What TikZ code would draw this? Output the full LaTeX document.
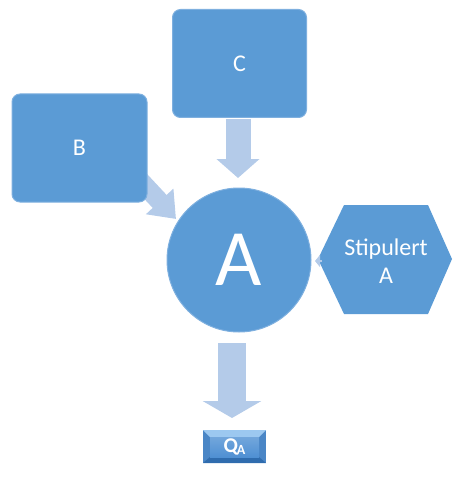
\documentclass[tikz,border=0pt]{standalone}
\usepackage{fontspec}
\setmainfont{Carlito}
\usetikzlibrary{arrows.meta,shadings}
\definecolor{boxblue}{HTML}{5B9BD5}
\definecolor{boxedge}{HTML}{7FB0DF}
\definecolor{arrblue}{HTML}{B4CBE9}
\definecolor{qtop}{HTML}{9CC8F0}
\definecolor{qbot}{HTML}{2F6CAE}
\definecolor{qside}{HTML}{4A86C6}
\definecolor{qface}{HTML}{4F90D3}
\tikzset{
  rbox/.style={fill=boxblue, draw=boxedge, line width=1pt, rounded corners=8pt, text=white, font=\fontsize{24}{26}\selectfont},
  barrow/.style={draw=arrblue, line cap=butt},
  lbl/.style={text=white, align=center}
}
\begin{document}
\begin{tikzpicture}[x=1pt,y=-1pt]
\useasboundingbox (0,0) rectangle (452,484);
% arrows behind
\coordinate (ct) at (238,119);
\coordinate (ch) at (238,178);
\draw[barrow, line width=25pt, arrows={-Triangle[length=19pt, width=42pt]}] (ct) -- (ch);
\coordinate (bt) at (135,175);
\coordinate (bh) at (176,219);
\draw[barrow, line width=19pt, arrows={-Triangle[length=24pt, width=36pt]}] (bt) -- (bh);
% boxes
\node[rbox, minimum width=134pt, minimum height=108pt] (C) at (239.5,63.5) {C};
\node[rbox, minimum width=135pt, minimum height=108pt] (B) at (79.5,148) {B};
% circle
\node[circle, fill=boxblue, draw=boxedge, line width=1pt, minimum size=144pt, text=white, font=\fontsize{80}{80}\selectfont, inner sep=0pt] (A) at (239,260) {A};
% hexagon
\fill[boxblue] (318,259) -- (344,205) -- (428,205) -- (452,259) -- (428,314) -- (344,314) -- cycle;
\node[lbl, font=\fontsize{24}{28}\selectfont] (S) at (386,261) {Stipulert\\A};
% QA bevel box
\fill[qside] (203,430) rectangle (266,463);
\fill[qtop] (203,430) -- (266,430) -- (259,437) -- (210,437) -- cycle;
\fill[qbot] (203,463) -- (266,463) -- (259,457) -- (210,457) -- cycle;
\shade[top color=qface!80!white, bottom color=qface] (210,437) rectangle (259,457);
\node[text=white, font=\fontsize{21}{21}\selectfont\bfseries] (Q) at (234.5,447) {Q\kern-1pt\raisebox{-2pt}{\fontsize{14}{14}\selectfont A}};
% arrows
\coordinate (at) at (232,343);
\coordinate (ah) at (232,418);
\draw[barrow, line width=28pt, arrows={-Triangle[length=17pt, width=58pt]}] (at) -- (ah);
\coordinate (st) at (322,261);
\coordinate (sh) at (315,261);
\draw[barrow, line width=2pt, arrows={-Triangle[length=5pt, width=12pt]}] (st) -- (sh);
\end{tikzpicture}
\end{document}
